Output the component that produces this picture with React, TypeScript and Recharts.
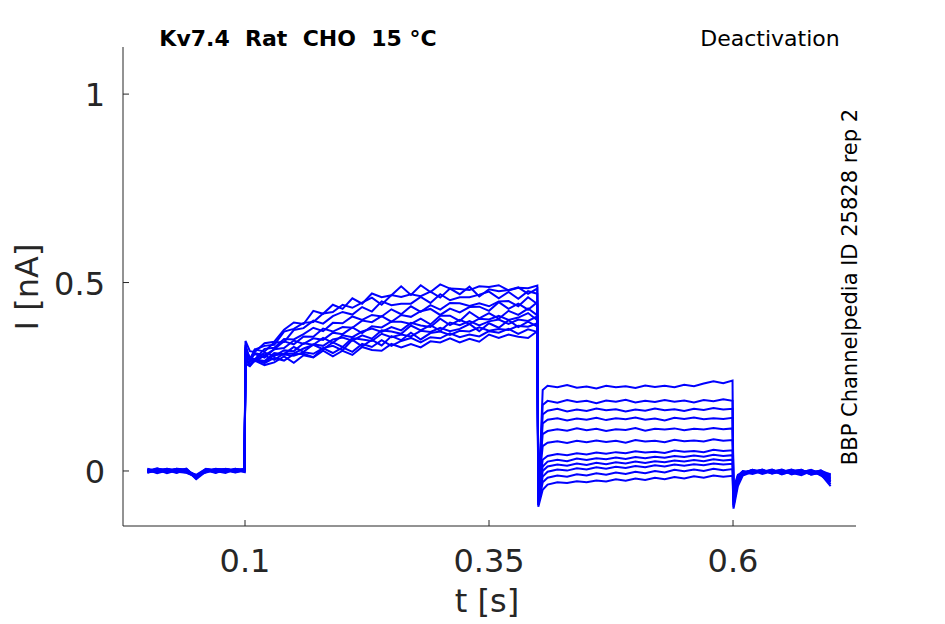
import React from "react";
import { LineChart, Line, XAxis, YAxis } from "recharts";

// time samples (s) per protocol segment
const BASE_T = [0, 0.01, 0.02, 0.03, 0.04, 0.05, 0.06, 0.07, 0.08, 0.09, 0.0995];
const ACT_T = [0.1005, 0.105, 0.11, 0.12, 0.13, 0.14, 0.15, 0.16, 0.17, 0.18, 0.19, 0.2, 0.21, 0.22, 0.23, 0.24, 0.25, 0.26, 0.27, 0.28, 0.29, 0.3, 0.31, 0.32, 0.33, 0.34, 0.35, 0.36, 0.37, 0.38, 0.39, 0.3995];
const TAIL_T = [0.4005, 0.405, 0.41, 0.42, 0.43, 0.44, 0.45, 0.46, 0.47, 0.48, 0.49, 0.5, 0.51, 0.52, 0.53, 0.54, 0.55, 0.56, 0.57, 0.58, 0.59, 0.5995];
const POST_T = [0.6005, 0.605, 0.61, 0.62, 0.63, 0.64, 0.65, 0.66, 0.67, 0.68, 0.69, 0.7];

// current (nA), one row per sweep
const BASE_I = [
  [0.004, -0.003, 0.006, 0.0, -0.004, -0.016, 0.002, -0.002, 0.005, 0.0, 0.003],
  [-0.002, 0.005, -0.004, 0.003, 0.001, -0.012, -0.003, 0.004, -0.001, 0.006, 0.0],
  [0.006, 0.0, 0.002, -0.005, 0.004, -0.02, 0.005, 0.001, -0.003, 0.002, 0.005],
  [0.0, 0.007, -0.001, 0.004, -0.003, -0.014, 0.0, 0.006, 0.002, -0.004, 0.001],
  [-0.005, 0.002, 0.004, 0.0, 0.006, -0.018, 0.003, -0.004, 0.004, 0.003, -0.002],
  [0.003, -0.006, 0.001, 0.006, -0.002, -0.01, 0.006, 0.0, -0.005, 0.005, 0.004],
  [0.001, 0.004, -0.006, 0.002, 0.003, -0.022, -0.001, 0.005, 0.003, -0.002, 0.006],
  [-0.003, 0.001, 0.005, -0.002, -0.005, -0.015, 0.004, -0.003, 0.006, 0.001, -0.001],
  [0.005, -0.002, 0.0, 0.005, 0.002, -0.012, -0.004, 0.003, 0.0, 0.004, 0.002],
  [-0.001, 0.006, 0.003, -0.004, 0.005, -0.019, 0.002, -0.005, 0.004, -0.003, 0.005],
  [0.002, -0.004, 0.006, 0.001, -0.001, -0.013, 0.005, 0.002, -0.002, 0.006, -0.003],
  [-0.004, 0.003, -0.002, 0.006, 0.004, -0.017, 0.001, 0.004, 0.005, 0.0, 0.002],
];

const ACT_I = [
  [0.345, 0.318, 0.316, 0.339, 0.343, 0.375, 0.394, 0.39, 0.425, 0.417, 0.441, 0.43, 0.458, 0.444, 0.471, 0.461, 0.466, 0.49, 0.467, 0.493, 0.475, 0.495, 0.484, 0.483, 0.48, 0.49, 0.488, 0.493, 0.479, 0.486, 0.485, 0.492],
  [0.335, 0.296, 0.322, 0.332, 0.335, 0.37, 0.377, 0.393, 0.395, 0.418, 0.422, 0.441, 0.433, 0.447, 0.46, 0.441, 0.467, 0.462, 0.469, 0.464, 0.476, 0.46, 0.484, 0.469, 0.489, 0.463, 0.482, 0.477, 0.48, 0.487, 0.47, 0.484],
  [0.33, 0.292, 0.322, 0.317, 0.341, 0.342, 0.374, 0.379, 0.399, 0.391, 0.411, 0.422, 0.415, 0.435, 0.423, 0.45, 0.44, 0.444, 0.444, 0.462, 0.446, 0.469, 0.453, 0.461, 0.461, 0.468, 0.476, 0.458, 0.475, 0.457, 0.477, 0.47],
  [0.32, 0.303, 0.296, 0.324, 0.327, 0.35, 0.349, 0.363, 0.38, 0.371, 0.393, 0.392, 0.41, 0.401, 0.414, 0.41, 0.429, 0.416, 0.437, 0.422, 0.44, 0.428, 0.446, 0.445, 0.438, 0.445, 0.437, 0.45, 0.451, 0.437, 0.461, 0.443],
  [0.315, 0.294, 0.313, 0.307, 0.323, 0.344, 0.336, 0.357, 0.356, 0.378, 0.37, 0.382, 0.38, 0.399, 0.395, 0.411, 0.396, 0.414, 0.409, 0.424, 0.43, 0.414, 0.431, 0.421, 0.435, 0.436, 0.425, 0.448, 0.43, 0.444, 0.428, 0.448],
  [0.31, 0.296, 0.31, 0.301, 0.323, 0.326, 0.346, 0.337, 0.352, 0.348, 0.367, 0.363, 0.381, 0.366, 0.384, 0.381, 0.396, 0.396, 0.39, 0.404, 0.389, 0.412, 0.412, 0.398, 0.422, 0.405, 0.419, 0.404, 0.425, 0.414, 0.431, 0.413],
  [0.305, 0.295, 0.293, 0.314, 0.305, 0.32, 0.318, 0.339, 0.335, 0.353, 0.34, 0.36, 0.355, 0.37, 0.378, 0.369, 0.382, 0.373, 0.393, 0.386, 0.382, 0.404, 0.387, 0.401, 0.39, 0.404, 0.402, 0.412, 0.401, 0.407, 0.419, 0.4],
  [0.3, 0.284, 0.296, 0.292, 0.313, 0.31, 0.329, 0.316, 0.336, 0.332, 0.349, 0.354, 0.346, 0.36, 0.351, 0.373, 0.37, 0.364, 0.386, 0.373, 0.387, 0.372, 0.394, 0.387, 0.398, 0.386, 0.397, 0.402, 0.39, 0.402, 0.398, 0.41],
  [0.298, 0.295, 0.291, 0.306, 0.295, 0.312, 0.312, 0.325, 0.335, 0.323, 0.341, 0.329, 0.353, 0.349, 0.345, 0.364, 0.355, 0.362, 0.357, 0.372, 0.369, 0.38, 0.371, 0.377, 0.39, 0.371, 0.392, 0.38, 0.4, 0.382, 0.396, 0.383],
  [0.295, 0.28, 0.295, 0.288, 0.308, 0.309, 0.306, 0.315, 0.311, 0.326, 0.332, 0.32, 0.348, 0.331, 0.348, 0.333, 0.358, 0.347, 0.367, 0.349, 0.366, 0.37, 0.361, 0.372, 0.37, 0.381, 0.372, 0.377, 0.374, 0.385, 0.383, 0.392],
  [0.29, 0.291, 0.297, 0.286, 0.3, 0.293, 0.31, 0.311, 0.302, 0.326, 0.313, 0.328, 0.316, 0.337, 0.329, 0.347, 0.332, 0.345, 0.353, 0.341, 0.355, 0.352, 0.365, 0.355, 0.362, 0.357, 0.371, 0.367, 0.377, 0.364, 0.376, 0.369],
  [0.285, 0.278, 0.293, 0.281, 0.288, 0.304, 0.287, 0.307, 0.301, 0.319, 0.304, 0.319, 0.308, 0.329, 0.321, 0.319, 0.337, 0.328, 0.337, 0.328, 0.344, 0.341, 0.352, 0.341, 0.351, 0.343, 0.362, 0.353, 0.362, 0.356, 0.353, 0.371],
];

const TAIL_I = [
  [-0.09, 0.215, 0.226, 0.222, 0.228, 0.221, 0.224, 0.219, 0.226, 0.222, 0.225, 0.22, 0.227, 0.223, 0.226, 0.222, 0.229, 0.225, 0.232, 0.238, 0.233, 0.24],
  [-0.08, 0.175, 0.186, 0.181, 0.188, 0.183, 0.186, 0.18, 0.187, 0.184, 0.189, 0.182, 0.186, 0.183, 0.188, 0.184, 0.187, 0.182, 0.188, 0.185, 0.19, 0.186],
  [-0.07, 0.15, 0.16, 0.165, 0.158, 0.163, 0.159, 0.166, 0.161, 0.164, 0.158, 0.163, 0.16, 0.166, 0.161, 0.164, 0.159, 0.165, 0.162, 0.167, 0.163, 0.165],
  [-0.06, 0.126, 0.136, 0.14, 0.134, 0.139, 0.136, 0.141, 0.135, 0.14, 0.137, 0.142, 0.136, 0.139, 0.134, 0.141, 0.138, 0.142, 0.137, 0.14, 0.138, 0.141],
  [-0.05, 0.098, 0.106, 0.111, 0.107, 0.113, 0.108, 0.112, 0.106, 0.111, 0.109, 0.114, 0.107, 0.112, 0.11, 0.113, 0.108, 0.112, 0.11, 0.114, 0.111, 0.113],
  [-0.05, 0.066, 0.075, 0.079, 0.074, 0.08, 0.076, 0.081, 0.077, 0.08, 0.075, 0.082, 0.078, 0.08, 0.076, 0.083, 0.079, 0.081, 0.078, 0.084, 0.08, 0.082],
  [-0.06, 0.03, 0.04, 0.045, 0.042, 0.047, 0.044, 0.049, 0.046, 0.05, 0.047, 0.052, 0.049, 0.051, 0.048, 0.054, 0.051, 0.053, 0.05, 0.056, 0.053, 0.055],
  [-0.07, 0.012, 0.025, 0.03, 0.026, 0.033, 0.029, 0.034, 0.031, 0.036, 0.032, 0.037, 0.034, 0.038, 0.035, 0.04, 0.037, 0.041, 0.038, 0.043, 0.04, 0.042],
  [-0.08, 0.0, 0.012, 0.017, 0.014, 0.02, 0.016, 0.022, 0.018, 0.023, 0.02, 0.025, 0.021, 0.026, 0.023, 0.028, 0.025, 0.029, 0.026, 0.031, 0.028, 0.03],
  [-0.085, -0.015, -0.002, 0.004, 0.001, 0.007, 0.004, 0.01, 0.006, 0.011, 0.008, 0.013, 0.01, 0.015, 0.012, 0.017, 0.014, 0.018, 0.015, 0.02, 0.017, 0.019],
  [-0.09, -0.03, -0.018, -0.012, -0.015, -0.009, -0.012, -0.006, -0.01, -0.004, -0.008, -0.002, -0.006, 0.0, -0.004, 0.003, -0.001, 0.004, 0.0, 0.006, 0.002, 0.005],
  [-0.095, -0.05, -0.036, -0.03, -0.032, -0.027, -0.03, -0.025, -0.028, -0.022, -0.026, -0.02, -0.024, -0.018, -0.022, -0.016, -0.02, -0.014, -0.018, -0.012, -0.015, -0.013],
];

const POST_I = [
  [-0.095, -0.02, -0.004, 0.002, -0.006, 0.001, -0.008, -0.002, 0.003, -0.01, -0.004, -0.02],
  [-0.08, -0.03, -0.008, -0.001, 0.003, -0.007, 0.0, -0.005, -0.011, 0.0, -0.008, -0.012],
  [-0.07, -0.012, 0.0, -0.006, 0.002, -0.004, 0.003, -0.009, -0.002, 0.002, -0.012, -0.03],
  [-0.06, -0.025, -0.01, 0.001, -0.004, 0.003, -0.006, 0.0, -0.007, -0.003, 0.0, -0.015],
  [-0.05, -0.018, -0.003, -0.008, 0.0, -0.002, 0.004, -0.006, 0.0, -0.009, -0.005, -0.008],
  [-0.045, -0.01, -0.006, 0.003, -0.005, 0.002, -0.003, 0.003, -0.008, 0.001, -0.01, -0.025],
  [-0.05, -0.022, -0.002, -0.004, 0.004, -0.006, 0.001, -0.004, 0.002, -0.006, 0.001, -0.01],
  [-0.06, -0.015, -0.009, 0.0, -0.002, 0.004, -0.007, 0.002, -0.004, 0.003, -0.007, -0.035],
  [-0.07, -0.028, -0.005, 0.002, -0.008, -0.001, 0.002, -0.007, 0.001, -0.005, 0.002, -0.018],
  [-0.08, -0.02, -0.001, -0.005, 0.001, -0.005, -0.002, 0.004, -0.006, 0.0, -0.006, -0.022],
  [-0.09, -0.032, -0.007, 0.003, -0.003, 0.002, -0.009, 0.0, 0.003, -0.008, -0.002, -0.028],
  [-0.1, -0.04, -0.012, -0.002, 0.001, -0.006, 0.002, -0.003, -0.005, 0.001, -0.009, -0.04],
];

const X_TICKS = [0.1, 0.35, 0.6];
const Y_TICKS = [0, 0.5, 1];
const X_DOMAIN: [number, number] = [-0.025, 0.726];
const Y_DOMAIN: [number, number] = [-0.146, 1.125];

const TIMES = [...BASE_T, ...ACT_T, ...TAIL_T, ...POST_T];
const SWEEPS = BASE_I.map((b, i) => [...b, ...ACT_I[i], ...TAIL_I[i], ...POST_I[i]]);
const ROWS = TIMES.map((t, k) => {
  const row: Record<string, number> = { t };
  SWEEPS.forEach((s, i) => {
    row[`s${i + 1}`] = s[k];
  });
  return row;
});

const AXIS = "#262626";
const FONT = "DejaVu Sans";
const TICK_FS = 32;

const XTick = (props: any) => {
  const { x, y, payload } = props;
  return (
    <g>
      <line x1={x} y1={y} x2={x} y2={y - 6} stroke={AXIS} strokeWidth={1} />
      <text x={x} y={y + 46} textAnchor="middle" fontSize={TICK_FS} fontFamily={FONT} fill={AXIS}>
        {String(payload.value)}
      </text>
    </g>
  );
};

const YTick = (props: any) => {
  const { x, y, payload } = props;
  return (
    <g>
      <line x1={x} y1={y} x2={x + 6} y2={y} stroke={AXIS} strokeWidth={1} />
      <text x={x - 18} y={y + 12} textAnchor="end" fontSize={TICK_FS} fontFamily={FONT} fill={AXIS}>
        {String(payload.value)}
      </text>
    </g>
  );
};

export default function App() {
  return (
    <div style={{ position: "absolute", left: 0, top: 0, width: 945, height: 624, background: "#fff" }}>
      <LineChart
        width={945}
        height={624}
        data={ROWS}
        margin={{ top: 47, right: 89, bottom: 68, left: 63 }}
      >
        <XAxis
          dataKey="t"
          type="number"
          domain={X_DOMAIN}
          allowDataOverflow
          ticks={X_TICKS}
          height={30}
          tickSize={0}
          tickMargin={0}
          tick={<XTick />}
          axisLine={{ stroke: AXIS, strokeWidth: 1 }}
          tickLine={false}
          interval={0}
        />
        <YAxis
          type="number"
          domain={Y_DOMAIN}
          allowDataOverflow
          ticks={Y_TICKS}
          width={60}
          tickSize={0}
          tickMargin={0}
          tick={<YTick />}
          axisLine={{ stroke: AXIS, strokeWidth: 1 }}
          tickLine={false}
          interval={0}
        />
        {SWEEPS.map((_, i) => (
          <Line
            key={i}
            dataKey={`s${i + 1}`}
            type="linear"
            stroke="#0000ff"
            strokeWidth={2}
            dot={false}
            activeDot={false}
            isAnimationActive={false}
          />
        ))}
      </LineChart>
      <svg
        width={945}
        height={624}
        style={{ position: "absolute", left: 0, top: 0, pointerEvents: "none" }}
      >
        <text x={298} y={46} textAnchor="middle" fontSize={22} fontWeight="bold" fontFamily={FONT} fill="#000" style={{ whiteSpace: "pre" }}>
          {"Kv7.4  Rat  CHO  15 °C"}
        </text>
        <text x={770} y={46} textAnchor="middle" fontSize={22} fontFamily={FONT} fill="#000">
          Deactivation
        </text>
        <text x={487} y={612} textAnchor="middle" fontSize={32} fontFamily={FONT} fill={AXIS}>
          t [s]
        </text>
        <text x={38} y={287} textAnchor="middle" fontSize={32} fontFamily={FONT} fill={AXIS} transform="rotate(-90, 38, 287)">
          I [nA]
        </text>
        <text x={857} y={287} textAnchor="middle" fontSize={21} fontFamily={FONT} fill="#000" transform="rotate(-90, 857, 287)">
          BBP Channelpedia ID 25828 rep 2
        </text>
      </svg>
    </div>
  );
}
